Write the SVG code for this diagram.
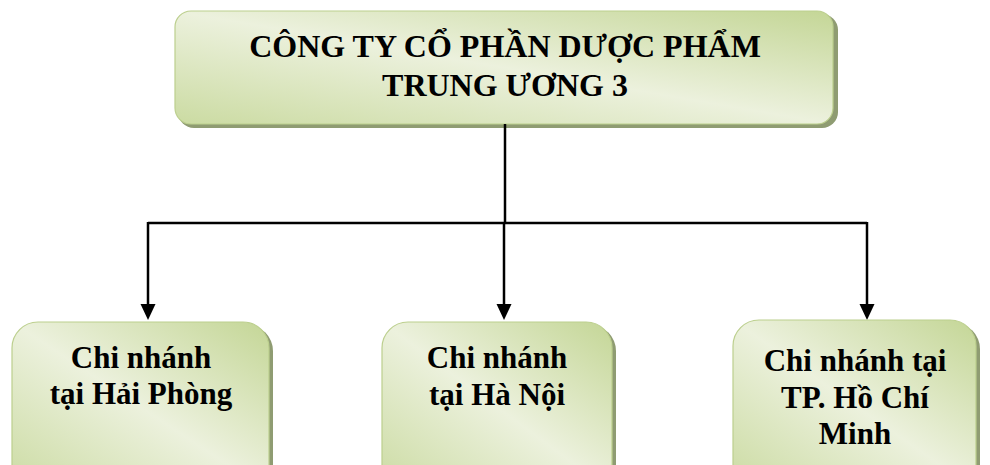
<svg xmlns="http://www.w3.org/2000/svg" width="990" height="465" viewBox="0 0 990 465">
<defs>
<linearGradient id="g" x1="1" y1="0" x2="0" y2="1">
<stop offset="0" stop-color="#c4d696"/>
<stop offset="0.5" stop-color="#ecf1dd"/>
<stop offset="1" stop-color="#cbdba2"/>
</linearGradient>
</defs>
<style>
.box{fill:url(#g);stroke:#bccf8e;stroke-width:1.2}
.sh{fill:#8f9c72}
.t{font-family:"Liberation Serif","Times New Roman",serif;font-weight:bold;fill:#000;text-anchor:middle}
.c{stroke:#000;stroke-width:2.5;fill:none}
.ah{fill:#000}
</style>
<rect width="990" height="465" fill="#fff"/>
<g id="top">
<rect class="sh" x="178" y="14" width="660" height="114" rx="16"/>
<rect class="box" x="175" y="11" width="658" height="113" rx="16"/>
<text class="t" x="505" y="57" font-size="32">CÔNG TY CỔ PHẦN DƯỢC PHẨM</text>
<text class="t" x="505" y="96" font-size="32">TRUNG ƯƠNG 3</text>
</g>
<g id="connectors">
<path class="c" d="M505,124 V223"/>
<path class="c" d="M148,223 H867"/>
<path class="c" d="M148,222 V306"/>
<path class="c" d="M504,223 V306"/>
<path class="c" d="M867,222 V306"/>
<polygon class="ah" points="140.5,304 155.5,304 148,320"/>
<polygon class="ah" points="496.5,304 511.5,304 504,320"/>
<polygon class="ah" points="859.5,304 874.5,304 867,320"/>
</g>
<g id="n1">
<rect class="sh" x="15" y="325" width="258" height="170" rx="26"/>
<rect class="box" x="12" y="322" width="257" height="170" rx="26"/>
<text class="t" x="141" y="368" font-size="31">Chi nhánh</text>
<text class="t" x="141" y="404" font-size="31">tại Hải Phòng</text>
</g>
<g id="n2">
<rect class="sh" x="385" y="325" width="231" height="170" rx="26"/>
<rect class="box" x="382" y="322" width="230" height="170" rx="26"/>
<text class="t" x="497" y="368" font-size="31">Chi nhánh</text>
<text class="t" x="497" y="405" font-size="31">tại Hà Nội</text>
</g>
<g id="n3">
<rect class="sh" x="736" y="323" width="244" height="170" rx="26"/>
<rect class="box" x="733" y="320" width="243" height="170" rx="26"/>
<text class="t" x="855" y="371" font-size="31">Chi nhánh tại</text>
<text class="t" x="855" y="408" font-size="31">TP. Hồ Chí</text>
<text class="t" x="855" y="444" font-size="31">Minh</text>
</g>
</svg>
